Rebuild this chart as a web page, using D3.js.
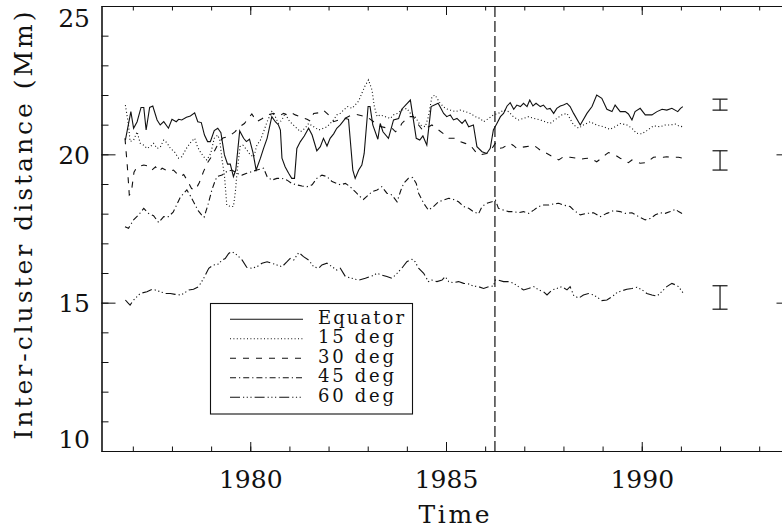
<!DOCTYPE html>
<html>
<head>
<meta charset="utf-8">
<script src="https://cdn.jsdelivr.net/npm/d3@7"></script>
<style>
  html, body { margin: 0; padding: 0; background: #fff; }
  svg { display: block; }
  text { font-family: "DejaVu Serif", "Liberation Serif", serif; fill: #111; }
</style>
</head>
<body>
<svg id="chart" width="782" height="529"></svg>
<script>
// Mean inter-cluster distance (Mm) per latitude band, one vertex per [year, value]
const equator = [
  [1976.81,20.48],[1976.95,21.44],[1977.02,20.88],[1977.11,21.10],[1977.21,21.58],[1977.28,21.58],
  [1977.34,20.82],[1977.43,21.58],[1977.51,21.63],[1977.62,21.16],[1977.70,20.99],[1977.79,21.10],
  [1977.91,20.88],[1978.00,21.18],[1978.11,21.10],[1978.17,21.18],[1978.25,21.16],[1978.37,21.25],
  [1978.47,21.29],[1978.58,21.40],[1978.66,21.10],[1978.75,21.07],[1978.83,20.65],[1978.91,20.43],
  [1978.98,20.43],[1979.08,20.80],[1979.17,20.88],[1979.25,20.73],[1979.34,19.98],[1979.42,19.67],
  [1979.49,19.67],[1979.57,19.25],[1979.63,19.47],[1979.73,20.79],[1979.83,20.54],[1979.90,20.43],
  [1979.98,20.51],[1980.07,20.06],[1980.15,19.47],[1980.26,19.87],[1980.34,20.20],[1980.43,20.54],
  [1980.55,21.27],[1980.64,21.10],[1980.72,20.99],[1980.77,20.82],[1980.81,19.87],[1980.89,19.58],
  [1980.98,19.36],[1981.06,19.19],[1981.13,19.19],[1981.19,20.20],[1981.28,20.43],[1981.38,20.62],
  [1981.49,20.88],[1981.58,20.65],[1981.70,20.12],[1981.79,20.26],[1981.87,20.54],[1981.96,20.28],
  [1982.04,20.54],[1982.13,20.69],[1982.21,20.88],[1982.30,20.99],[1982.43,21.21],[1982.51,21.18],
  [1982.62,19.47],[1982.68,19.19],[1982.77,19.47],[1982.85,19.64],[1982.91,20.03],[1983.01,21.61],
  [1983.06,21.61],[1983.13,20.99],[1983.26,20.51],[1983.32,21.04],[1983.39,20.76],[1983.53,20.54],
  [1983.66,21.16],[1983.79,21.21],[1983.87,21.52],[1984.09,21.83],[1984.24,20.54],[1984.33,20.48],
  [1984.41,20.62],[1984.51,20.31],[1984.62,21.61],[1984.80,21.72],[1984.94,21.38],[1985.02,21.27],
  [1985.11,21.33],[1985.19,21.16],[1985.28,21.21],[1985.41,21.04],[1985.49,21.16],[1985.58,20.93],
  [1985.70,20.99],[1985.79,20.26],[1985.92,20.09],[1986.04,20.03],[1986.13,20.20],[1986.21,20.82],
  [1986.30,21.04],[1986.39,21.27],[1986.47,21.38],[1986.56,21.63],[1986.64,21.74],[1986.73,21.52],
  [1986.81,21.66],[1986.90,21.61],[1986.98,21.72],[1987.07,21.61],[1987.14,21.83],[1987.22,21.63],
  [1987.30,21.72],[1987.41,21.61],[1987.49,21.66],[1987.58,21.52],[1987.66,21.55],[1987.75,21.38],
  [1987.83,21.55],[1987.92,21.63],[1988.00,21.66],[1988.09,21.72],[1988.17,21.61],[1988.26,21.38],
  [1988.43,20.99],[1988.60,21.38],[1988.73,21.61],[1988.85,22.00],[1988.98,21.89],[1989.11,21.52],
  [1989.24,21.44],[1989.32,21.66],[1989.45,21.44],[1989.58,21.44],[1989.66,21.36],[1989.75,21.16],
  [1989.83,21.44],[1989.96,21.55],[1990.09,21.33],[1990.26,21.33],[1990.39,21.44],[1990.52,21.52],
  [1990.64,21.49],[1990.77,21.55],[1990.92,21.44],[1990.99,21.55],[1991.05,21.61]
];

const deg15 = [
  [1976.81,21.66],[1976.89,20.99],[1976.93,20.43],[1977.02,20.48],[1977.11,20.76],[1977.19,20.37],
  [1977.28,20.31],[1977.36,20.20],[1977.45,20.26],[1977.53,20.37],[1977.62,20.20],[1977.70,20.24],
  [1977.79,20.48],[1977.87,20.39],[1977.96,20.20],[1978.06,20.09],[1978.17,19.87],[1978.25,19.92],
  [1978.37,20.20],[1978.47,20.39],[1978.58,20.54],[1978.65,20.26],[1978.72,20.09],[1978.81,19.92],
  [1978.89,19.81],[1978.99,20.03],[1979.08,20.54],[1979.17,20.65],[1979.22,20.48],[1979.28,19.81],
  [1979.34,19.30],[1979.40,18.29],[1979.49,18.24],[1979.57,18.24],[1979.62,18.74],[1979.66,19.36],
  [1979.74,20.26],[1979.81,20.31],[1979.91,20.15],[1980.00,19.98],[1980.09,19.92],[1980.17,20.31],
  [1980.26,20.48],[1980.34,20.76],[1980.43,21.10],[1980.55,21.44],[1980.64,21.27],[1980.72,21.04],
  [1980.81,21.16],[1980.89,21.38],[1980.98,21.16],[1981.06,21.04],[1981.15,20.93],[1981.28,20.76],
  [1981.40,20.88],[1981.49,21.04],[1981.62,20.93],[1981.75,20.82],[1981.87,20.88],[1981.96,20.93],
  [1982.04,21.04],[1982.13,21.16],[1982.21,21.33],[1982.30,21.38],[1982.38,21.49],[1982.49,21.61],
  [1982.60,21.55],[1982.68,21.66],[1982.77,21.80],[1982.85,22.06],[1982.93,22.30],[1983.02,22.51],
  [1983.11,22.17],[1983.17,21.61],[1983.24,21.27],[1983.32,21.33],[1983.45,21.27],[1983.58,21.21],
  [1983.66,21.33],[1983.75,21.38],[1983.87,21.49],[1984.00,21.55],[1984.09,21.38],[1984.21,21.27],
  [1984.34,20.99],[1984.47,20.93],[1984.55,21.27],[1984.64,21.94],[1984.72,22.00],[1984.85,21.72],
  [1984.98,21.55],[1985.11,21.49],[1985.24,21.44],[1985.36,21.49],[1985.49,21.44],[1985.62,21.38],
  [1985.75,21.27],[1985.87,21.21],[1985.96,21.10],[1986.09,21.21],[1986.21,21.33],[1986.34,21.38],
  [1986.47,21.49],[1986.60,21.44],[1986.72,21.27],[1986.85,21.16],[1986.98,21.21],[1987.11,21.27],
  [1987.24,21.21],[1987.41,21.16],[1987.53,21.10],[1987.66,21.04],[1987.83,21.21],[1987.96,21.33],
  [1988.09,21.38],[1988.26,20.99],[1988.39,20.88],[1988.51,20.99],[1988.68,21.10],[1988.85,20.99],
  [1989.02,20.93],[1989.19,20.84],[1989.32,20.93],[1989.45,21.04],[1989.62,20.99],[1989.75,20.88],
  [1989.87,20.71],[1990.00,20.69],[1990.13,20.80],[1990.30,20.96],[1990.47,20.93],[1990.60,20.99],
  [1990.73,20.99],[1990.86,21.02],[1990.94,20.96],[1991.05,20.93]
];

const deg30 = [
  [1976.80,20.54],[1976.86,19.60],[1976.91,18.63],[1976.96,18.70],[1977.03,19.40],[1977.11,19.58],
  [1977.20,19.61],[1977.28,19.64],[1977.39,19.61],[1977.49,19.47],[1977.58,19.58],[1977.66,19.42],
  [1977.75,19.53],[1977.85,19.47],[1977.94,19.42],[1978.04,19.47],[1978.12,19.36],[1978.22,19.25],
  [1978.30,19.32],[1978.40,19.10],[1978.50,18.85],[1978.60,18.80],[1978.70,19.05],[1978.80,19.40],
  [1978.90,19.70],[1979.00,19.90],[1979.10,20.15],[1979.20,20.40],[1979.30,20.55],[1979.45,20.60],
  [1979.60,20.75],[1979.75,20.95],[1979.85,21.04],[1979.93,21.18],[1980.04,21.36],[1980.17,21.10],
  [1980.30,21.20],[1980.43,21.33],[1980.60,21.38],[1980.75,21.30],[1980.85,21.38],[1980.94,21.33],
  [1981.05,21.40],[1981.15,21.33],[1981.32,21.25],[1981.45,21.18],[1981.53,21.12],[1981.62,21.38],
  [1981.75,21.40],[1981.87,21.49],[1982.00,21.33],[1982.13,21.10],[1982.25,21.15],[1982.40,21.20],
  [1982.55,21.30],[1982.70,21.35],[1982.85,21.30],[1983.00,21.25],[1983.15,21.10],[1983.30,20.95],
  [1983.45,20.90],[1983.62,20.88],[1983.71,20.76],[1983.83,20.93],[1983.87,21.04],[1984.04,21.27],
  [1984.17,21.27],[1984.30,20.99],[1984.40,20.82],[1984.52,20.90],[1984.64,20.99],[1984.81,20.82],
  [1984.98,20.65],[1985.07,20.54],[1985.24,20.54],[1985.36,20.43],[1985.49,20.37],[1985.62,20.31],
  [1985.77,20.06],[1985.87,19.98],[1986.04,20.03],[1986.15,20.15],[1986.26,20.37],[1986.34,20.20],
  [1986.45,20.22],[1986.56,20.31],[1986.64,20.37],[1986.72,20.30],[1986.81,20.20],[1986.94,20.24],
  [1987.05,20.26],[1987.15,20.28],[1987.24,20.31],[1987.35,20.20],[1987.45,20.09],[1987.58,20.03],
  [1987.68,19.95],[1987.79,19.87],[1987.88,19.81],[1988.00,19.92],[1988.17,19.90],[1988.34,19.87],
  [1988.43,19.83],[1988.55,19.86],[1988.68,19.87],[1988.85,19.75],[1988.95,19.85],[1989.07,19.98],
  [1989.15,20.06],[1989.32,19.98],[1989.45,19.87],[1989.55,19.80],[1989.66,19.72],[1989.75,19.81],
  [1989.85,19.75],[1989.96,19.70],[1990.13,19.72],[1990.22,19.82],[1990.30,19.90],[1990.43,19.92],
  [1990.55,19.90],[1990.64,19.92],[1990.77,19.90],[1990.94,19.90],[1991.05,19.87]
];

const deg45 = [
  [1976.80,17.56],[1976.89,17.51],[1977.02,17.79],[1977.15,17.96],[1977.28,18.18],[1977.40,18.01],
  [1977.53,17.93],[1977.66,17.70],[1977.79,17.90],[1977.91,17.90],[1978.03,18.05],[1978.10,18.24],
  [1978.20,18.52],[1978.30,18.69],[1978.38,18.80],[1978.47,18.60],[1978.57,18.35],[1978.67,18.10],
  [1978.76,17.95],[1978.82,17.88],[1978.92,18.30],[1979.02,18.80],[1979.10,19.10],[1979.15,19.25],
  [1979.28,19.30],[1979.40,19.42],[1979.53,19.47],[1979.66,19.36],[1979.79,19.30],[1979.91,19.36],
  [1980.04,19.42],[1980.17,19.47],[1980.34,19.53],[1980.43,19.25],[1980.55,19.13],[1980.68,19.19],
  [1980.81,19.19],[1980.94,19.13],[1981.06,19.02],[1981.19,18.97],[1981.32,18.93],[1981.45,18.91],
  [1981.58,18.97],[1981.70,19.19],[1981.83,19.30],[1981.96,19.25],[1982.09,19.08],[1982.21,19.02],
  [1982.30,18.97],[1982.43,19.02],[1982.55,18.91],[1982.68,18.74],[1982.81,18.57],[1982.89,18.48],
  [1983.02,18.63],[1983.11,18.74],[1983.24,18.80],[1983.36,18.91],[1983.49,18.69],[1983.62,18.63],
  [1983.75,18.40],[1983.85,18.80],[1983.92,19.02],[1984.04,19.19],[1984.15,19.22],[1984.24,19.02],
  [1984.30,18.69],[1984.43,18.35],[1984.55,18.12],[1984.68,18.24],[1984.81,18.40],[1984.94,18.46],
  [1985.07,18.52],[1985.19,18.48],[1985.32,18.40],[1985.45,18.24],[1985.58,18.18],[1985.70,18.07],
  [1985.83,17.99],[1985.92,18.24],[1986.04,18.35],[1986.17,18.40],[1986.26,18.46],[1986.34,18.18],
  [1986.47,18.12],[1986.60,18.07],[1986.73,18.07],[1986.85,18.03],[1986.98,18.07],[1987.11,18.01],
  [1987.24,18.12],[1987.37,18.24],[1987.49,18.29],[1987.62,18.29],[1987.75,18.33],[1987.88,18.35],
  [1988.00,18.29],[1988.17,18.24],[1988.26,18.12],[1988.43,17.96],[1988.60,18.01],[1988.77,18.03],
  [1988.94,17.90],[1989.11,18.01],[1989.28,18.10],[1989.45,18.07],[1989.58,18.01],[1989.75,18.03],
  [1989.92,17.90],[1990.09,17.79],[1990.22,17.84],[1990.35,17.96],[1990.47,18.03],[1990.60,18.01],
  [1990.73,18.07],[1990.86,18.15],[1990.94,18.07],[1991.05,17.99]
];

const deg60 = [
  [1976.81,15.09],[1976.87,15.00],[1976.93,14.92],[1977.02,15.09],[1977.19,15.31],[1977.36,15.37],
  [1977.49,15.45],[1977.57,15.43],[1977.70,15.37],[1977.83,15.31],[1977.96,15.31],[1978.08,15.28],
  [1978.21,15.26],[1978.30,15.31],[1978.43,15.43],[1978.55,15.45],[1978.68,15.54],[1978.81,15.82],
  [1978.94,16.16],[1979.06,16.27],[1979.19,16.30],[1979.28,16.44],[1979.36,16.49],[1979.45,16.66],
  [1979.53,16.72],[1979.66,16.61],[1979.79,16.44],[1979.91,16.19],[1980.04,16.16],[1980.17,16.21],
  [1980.30,16.33],[1980.43,16.38],[1980.55,16.33],[1980.68,16.27],[1980.81,16.21],[1980.94,16.38],
  [1981.02,16.49],[1981.11,16.44],[1981.24,16.69],[1981.36,16.55],[1981.49,16.44],[1981.62,16.21],
  [1981.75,16.16],[1981.83,16.27],[1981.96,16.33],[1982.09,16.21],[1982.21,16.10],[1982.30,16.16],
  [1982.43,15.88],[1982.60,15.82],[1982.77,15.76],[1982.94,15.82],[1983.11,15.90],[1983.24,15.99],
  [1983.36,15.93],[1983.49,15.88],[1983.62,15.82],[1983.75,15.99],[1983.87,16.16],[1984.00,16.38],
  [1984.13,16.46],[1984.21,16.38],[1984.30,16.16],[1984.43,15.99],[1984.55,15.71],[1984.64,15.76],
  [1984.77,15.71],[1984.90,15.76],[1984.98,15.88],[1985.07,15.71],[1985.19,15.67],[1985.32,15.71],
  [1985.45,15.65],[1985.58,15.63],[1985.70,15.56],[1985.83,15.54],[1985.96,15.48],[1986.09,15.54],
  [1986.21,15.56],[1986.26,15.76],[1986.34,15.76],[1986.47,15.71],[1986.60,15.71],[1986.73,15.65],
  [1986.85,15.54],[1986.98,15.43],[1987.11,15.48],[1987.24,15.54],[1987.37,15.43],[1987.49,15.37],
  [1987.58,15.26],[1987.71,15.43],[1987.83,15.48],[1987.96,15.54],[1988.09,15.43],[1988.17,15.54],
  [1988.26,15.25],[1988.39,15.15],[1988.51,15.26],[1988.64,15.31],[1988.77,15.26],[1988.90,15.15],
  [1988.98,15.07],[1989.11,15.09],[1989.24,15.20],[1989.37,15.34],[1989.49,15.40],[1989.62,15.45],
  [1989.75,15.48],[1989.88,15.52],[1990.01,15.43],[1990.13,15.31],[1990.26,15.26],[1990.39,15.22],
  [1990.51,15.37],[1990.64,15.54],[1990.77,15.65],[1990.86,15.60],[1990.94,15.54],[1991.05,15.34]
];

const seriesNames = ["Equator", "15 deg", "30 deg", "45 deg", "60 deg"];
const seriesData = [equator, deg15, deg30, deg45, deg60];

// Typical uncertainty of the band means, shown at 1992
const errYears = [1992, 1992, 1992];
const errCenters = [21.675, 19.795, 15.175];
const errHalfWidths = [0.185, 0.325, 0.395];

const markerYear = 1986.25;

const xMajorTicks = [1980, 1985, 1990];
const xMinorTicks = d3.range(1977, 1994);
const yMajorTicks = [10, 15, 20, 25];
const yMinorTicks = d3.range(10, 26);

const xLabel = "Time";
const yLabel = "Inter-cluster distance (Mm)";

// ---- layout ----
const plot = { left: 101.5, right: 790.5, top: 6, bottom: 451 };
const dashes = [null, "1,2.4", "6,7", "6,3,1.2,3", "10,3,1.2,2.5,1.2,2.5,1.2,3"];

const svg = d3.select("#chart");

const x = d3.scaleLinear().domain([1976.2, 1993.8]).range([plot.left, plot.right]);
const y = d3.scaleLinear().domain([10, 25]).range([plot.bottom, plot.top]);

const axisStyle = g => {
  g.selectAll("path.domain").attr("stroke", "#111").attr("stroke-width", 1.1);
  g.selectAll(".tick line").attr("stroke", "#111").attr("stroke-width", 1);
  g.selectAll("text").attr("font-family", "DejaVu Serif, serif").attr("font-size", 25).attr("fill", "#111");
};

// minor ticks (inward)
svg.append("g").attr("transform", `translate(0,${plot.bottom})`)
  .call(d3.axisBottom(x).tickValues(xMinorTicks).tickSize(-4.5).tickSizeOuter(0).tickFormat(""))
  .call(axisStyle);
svg.append("g").attr("transform", `translate(0,${plot.top})`)
  .call(d3.axisTop(x).tickValues(xMinorTicks).tickSize(-4.5).tickSizeOuter(0).tickFormat(""))
  .call(axisStyle);
svg.append("g").attr("transform", `translate(${plot.left},0)`)
  .call(d3.axisLeft(y).tickValues(yMinorTicks).tickSize(-7).tickSizeOuter(0).tickFormat(""))
  .call(axisStyle);
svg.append("g").attr("transform", `translate(${plot.right},0)`)
  .call(d3.axisRight(y).tickValues(yMinorTicks).tickSize(-7).tickSizeOuter(0).tickFormat(""))
  .call(axisStyle);

// major ticks and labels
svg.append("g").attr("transform", `translate(0,${plot.bottom})`)
  .call(d3.axisBottom(x).tickValues(xMajorTicks).tickSize(-9).tickSizeOuter(0)
    .tickPadding(19).tickFormat(d3.format("d")))
  .call(axisStyle);
svg.append("g").attr("transform", `translate(0,${plot.top})`)
  .call(d3.axisTop(x).tickValues(xMajorTicks).tickSize(-9).tickSizeOuter(0).tickFormat(""))
  .call(axisStyle);
const yAxisG = svg.append("g").attr("transform", `translate(${plot.left},0)`)
  .call(d3.axisLeft(y).tickValues(yMajorTicks).tickSize(-14).tickSizeOuter(0)
    .tickPadding(11.5).tickFormat(d3.format("d")))
  .call(axisStyle);
// keep the end labels inside the frame height
yAxisG.selectAll(".tick text").attr("dy", d => d === 25 ? "0.8em" : d === 10 ? "-0.15em" : "0.36em");
svg.append("g").attr("transform", `translate(${plot.right},0)`)
  .call(d3.axisRight(y).tickValues(yMajorTicks).tickSize(-14).tickSizeOuter(0).tickFormat(""))
  .call(axisStyle);

// axis titles
svg.append("text")
  .attr("x", 454).attr("y", 523)
  .attr("text-anchor", "middle").attr("font-size", 25)
  .attr("textLength", 71).attr("lengthAdjust", "spacing")
  .text(xLabel);
svg.append("text")
  .attr("transform", `translate(31.5,${(plot.top + plot.bottom) / 2 - 3}) rotate(-90)`)
  .attr("text-anchor", "middle").attr("font-size", 25)
  .attr("textLength", 428).attr("lengthAdjust", "spacing")
  .text(yLabel);

// vertical marker
svg.append("line")
  .attr("x1", x(markerYear)).attr("x2", x(markerYear))
  .attr("y1", plot.top).attr("y2", plot.bottom)
  .attr("stroke", "#111").attr("stroke-width", 1.2)
  .attr("stroke-dasharray", "11,4");

// series
const line = d3.line().x(d => x(d[0])).y(d => y(d[1]));
svg.append("g").selectAll("path")
  .data(seriesData)
  .join("path")
  .attr("d", line)
  .attr("fill", "none")
  .attr("stroke", "#111")
  .attr("stroke-width", 1.1)
  .attr("stroke-dasharray", (d, i) => dashes[i]);

// error bars
const capHalf = 7.5;
const eb = svg.append("g").attr("stroke", "#111").attr("stroke-width", 1.2);
errYears.forEach((yr, i) => {
  const cx = x(yr);
  const y0 = y(errCenters[i] - errHalfWidths[i]);
  const y1 = y(errCenters[i] + errHalfWidths[i]);
  eb.append("line").attr("x1", cx).attr("x2", cx).attr("y1", y0).attr("y2", y1);
  eb.append("line").attr("x1", cx - capHalf).attr("x2", cx + capHalf).attr("y1", y0).attr("y2", y0);
  eb.append("line").attr("x1", cx - capHalf).attr("x2", cx + capHalf).attr("y1", y1).attr("y2", y1);
});

// legend
const legend = { x: 210.5, y: 303.5, w: 202, h: 110.5, lineX0: 230, lineX1: 303, textX: 318, row0: 319.3, rowStep: 19.5 };
const lg = svg.append("g");
lg.append("rect")
  .attr("x", legend.x).attr("y", legend.y).attr("width", legend.w).attr("height", legend.h)
  .attr("fill", "#fff").attr("stroke", "#111").attr("stroke-width", 1.1);
const textLengths = [86, 76, 76, 76, 76];
seriesNames.forEach((name, i) => {
  const ry = legend.row0 + i * legend.rowStep;
  lg.append("line")
    .attr("x1", legend.lineX0).attr("x2", legend.lineX1).attr("y1", ry).attr("y2", ry)
    .attr("stroke", "#111").attr("stroke-width", 1.1)
    .attr("stroke-dasharray", dashes[i]);
  lg.append("text")
    .attr("x", legend.textX).attr("y", ry + 4.2)
    .attr("font-size", 18)
    .attr("textLength", textLengths[i]).attr("lengthAdjust", "spacing")
    .text(name);
});
</script>
</body>
</html>
